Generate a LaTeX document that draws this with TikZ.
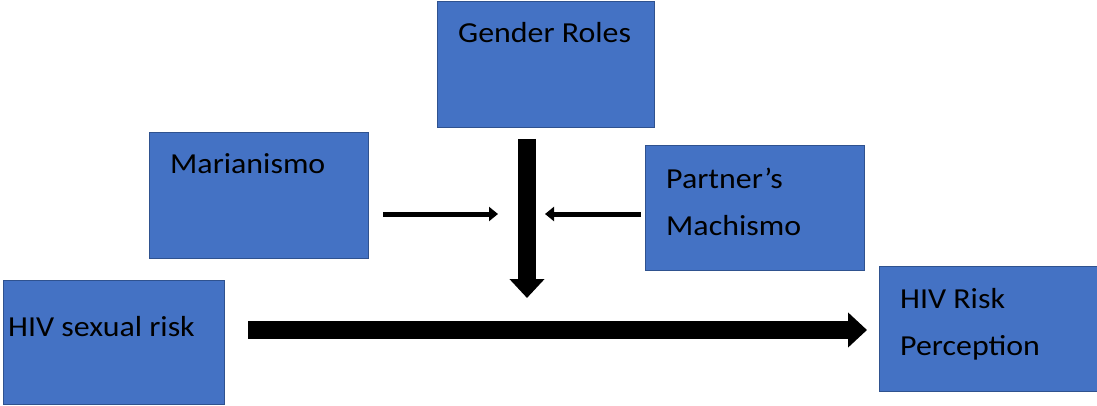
\documentclass[tikz,border=0pt]{standalone}
\usepackage{fontspec}
\setmainfont{Carlito}[FakeStretch=1.1]
\usetikzlibrary{arrows.meta}
\definecolor{boxfill}{HTML}{4472C4}
\definecolor{boxline}{HTML}{2F528F}
\tikzset{
  concept/.style={draw=boxline, line width=1pt, fill=boxfill, inner sep=0pt},
  label/.style={inner sep=0pt, anchor=base west, font=\fontsize{29}{47}\selectfont, text=black, align=left},
  thinarrow/.style={line width=5pt, -{Triangle[length=9pt,width=14pt]}},
  thickarrow/.style={line width=18pt, -{Triangle[length=19pt,width=34pt]}}
}
\begin{document}
\begin{tikzpicture}[x=1pt,y=-1pt]
\useasboundingbox (0,0) rectangle (1097,406);
% concept boxes
\node[concept, minimum width=217pt, minimum height=126pt] (gr) at (545.5,65) {};
\node[concept, minimum width=219pt, minimum height=125pt] (mar) at (258.5,195.5) {};
\node[concept, minimum width=219pt, minimum height=124pt] (mach) at (754.5,208) {};
\node[concept, minimum width=221pt, minimum height=124pt] (sex) at (113.5,342) {};
\node[concept, minimum width=218pt, minimum height=125pt] (perc) at (988,328.5) {};
% box texts (two-line labels are placed by their last baseline)
\node[label] (grt) at (458,43) {Gender Roles};
\node[label] (mart) at (170,174) {Marianismo};
\node[label] (macht) at (666,235) {Partner’s\\Machismo};
\node[label] (sext) at (8,336) {HIV sexual risk};
\node[label] (perct) at (900,355) {HIV Risk\\Perception};
% connector end points
\coordinate (vtop) at (527,139);
\coordinate (vend) at (527,298);
\coordinate (lstart) at (383,214);
\coordinate (lend) at (498,214);
\coordinate (rstart) at (641,214);
\coordinate (rend) at (545,214);
\coordinate (hstart) at (248,330);
\coordinate (hend) at (867,330);
% connectors
\draw[thickarrow] (vtop) -- (vend);
\draw[thinarrow] (lstart) -- (lend);
\draw[thinarrow] (rstart) -- (rend);
\draw[thickarrow] (hstart) -- (hend);
\end{tikzpicture}
\end{document}
